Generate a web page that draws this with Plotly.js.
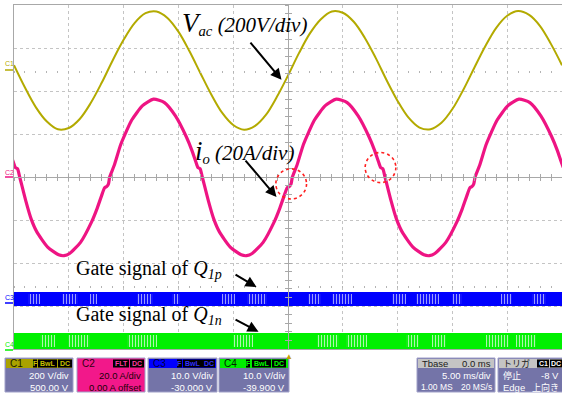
<!DOCTYPE html>
<html><head><meta charset="utf-8">
<script src="https://cdn.plot.ly/plotly-3.0.1.min.js"></script>
<style>html,body{margin:0;padding:0;background:#fff}#chart{width:562px;height:395px}</style>
</head><body><div id="chart"></div>
<script>
// ---- data (time in ms, level in divisions) ----
const vacTime = [-25,-24,-23,-22,-21,-20,-19,-18,-17,-16,-15,-14,-13,-12,-11,-10,-9,-8,-7,-6,-5,-4,-3,-2,-1,0,1,2,3,4,5,6,7,8,9,10,11,12,13,14,15,16,17,18,19,20,21,22,23,24,25];
const vacLevel = [2.60,2.08,1.62,1.29,1.11,1.14,1.35,1.72,2.19,2.71,3.19,3.58,3.81,3.85,3.70,3.38,2.93,2.42,1.92,1.49,1.21,1.10,1.19,1.45,1.87,2.36,2.88,3.34,3.67,3.85,3.82,3.61,3.24,2.77,2.25,1.77,1.38,1.15,1.11,1.26,1.58,2.03,2.54,3.04,3.47,3.75,3.86,3.77,3.51,3.09,2.60];

const ioTime = [
 -25.43,-25.08,-24.88,-24.68,-24.48,-23.93,-23.43,-22.93,-21.93,-20.93,-20.43,-19.93,-18.93,-17.93,-17.43,-17.03,-16.73,-16.53,-16.38,
 -16.27,-15.87,-15.27,-14.77,-14.27,-13.27,-12.27,-11.27,-10.27,-9.27,-8.77,-8.42,-8.22,-8.02,-7.82,-7.27,-6.77,-6.27,-5.27,-4.27,-3.77,-3.27,-2.27,-1.27,-0.77,-0.37,-0.07,0.13,0.28,
 0.4,0.8,1.4,1.9,2.4,3.4,4.4,5.4,6.4,7.4,7.9,8.25,8.45,8.65,8.85,9.4,9.9,10.4,11.4,12.4,12.9,13.4,14.4,15.4,15.9,16.3,16.6,16.8,16.95,
 17.07,17.47,18.07,18.57,19.07,20.07,21.07,22.07,23.07,24.07,24.57,24.92,25.12];
const ioLevel = [
 0.62,0.36,0.22,0.19,0.0,-0.55,-0.98,-1.27,-1.63,-1.81,-1.83,-1.78,-1.52,-1.05,-0.74,-0.45,-0.25,-0.22,-0.16,
 0,0.26,0.75,1.05,1.32,1.66,1.81,1.73,1.42,0.93,0.62,0.36,0.22,0.19,0.0,-0.55,-0.98,-1.27,-1.63,-1.81,-1.83,-1.78,-1.52,-1.05,-0.74,-0.45,-0.25,-0.22,-0.16,
 0,0.26,0.75,1.05,1.32,1.66,1.81,1.73,1.42,0.93,0.62,0.36,0.22,0.19,0.0,-0.55,-0.98,-1.27,-1.63,-1.81,-1.83,-1.78,-1.52,-1.05,-0.74,-0.45,-0.25,-0.22,-0.16,
 0,0.26,0.75,1.05,1.32,1.66,1.81,1.73,1.42,0.93,0.62,0.36,0.22];

const gateStart = -25, gateEnd = 25;
const q1pHigh = -2.67, q1pLow = -3.00;
const q1nHigh = -3.63, q1nLow = -4.00;
// regions where individual gate pulses are visible
const q1pLightStart = [-23.73,-20.63,-18.08,-13.80,-10.61,-6.06,-3.78,1.78,4.05,9.52,11.70,14.98,19.44,22.27];
const q1pLightEnd   = [-22.63,-19.17,-17.44,-12.34,-9.88,-4.87,-1.96,3.05,5.87,10.79,13.80,15.89,20.45,23.54];
const q1nLightStart = [-22.63,-20.08,-14.71,-5.05,2.69,5.33,10.79,13.16,18.08,20.81];
const q1nLightEnd   = [-21.26,-18.08,-11.98,-3.23,4.69,7.24,11.98,14.44,20.17,22.63];

const kinkTime  = [0.29, 8.44];
const kinkLevel = [-0.16, 0.22];

// ---- helpers ----
const P = x => (x - 14) / 548;   // pixel x -> paper
const Q = y => (349 - y) / 344;  // pixel y -> paper
const C_VAC = '#b3aa00', C_IO = '#ee1483', C_BLUE = '#0000ff', C_GREEN = '#00f000';
const BODY = '#7474a8';

function band(start, end, lo, hi, color) {
  return { type: 'bar', x: [(start + end) / 2], width: [end - start], base: [lo], y: [hi - lo],
    marker: { color: color, line: { width: 0 } }, hoverinfo: 'skip', showlegend: false };
}
function lightBars(starts, ends, base, h, bg, fg) {
  return {
    type: 'bar', x: starts.map((s, i) => (s + ends[i]) / 2), width: starts.map((s, i) => ends[i] - s),
    y: starts.map(() => h), base: starts.map(() => base),
    marker: { color: bg, line: { width: 0 }, pattern: { shape: '|', fgcolor: fg, bgcolor: bg, size: 3, solidity: 0.4, fillmode: 'replace' } },
    hoverinfo: 'skip', showlegend: false
  };
}

const traces = [
  { x: [], y: [], xaxis: 'x2', yaxis: 'y', showlegend: false },
  { x: [], y: [], xaxis: 'x3', yaxis: 'y', showlegend: false },
  { x: [], y: [], xaxis: 'x4', yaxis: 'y', showlegend: false },
  { x: [], y: [], xaxis: 'x5', yaxis: 'y', showlegend: false },
  { x: [], y: [], xaxis: 'x', yaxis: 'y2', showlegend: false },
  { x: [], y: [], xaxis: 'x', yaxis: 'y3', showlegend: false },
  band(gateStart, gateEnd, q1pLow, q1pHigh, C_BLUE),
  band(gateStart, gateEnd, q1nLow, q1nHigh, C_GREEN),
  lightBars(q1pLightStart, q1pLightEnd, -2.96, 0.24, C_BLUE, '#9c9cff'),
  lightBars(q1nLightStart, q1nLightEnd, -3.96, 0.28, C_GREEN, '#acf8ac'),
  { x: vacTime, y: vacLevel, mode: 'lines', line: { color: C_VAC, width: 2, shape: 'spline', smoothing: 1 }, hoverinfo: 'skip', showlegend: false },
  { x: ioTime, y: ioLevel, mode: 'lines', line: { color: C_IO, width: 3.2, shape: 'spline', smoothing: 0.6 }, hoverinfo: 'skip', showlegend: false }
];

const grey = '#a8a8a8';
const tickAxis = (pos, dir, showline) => ({
  overlaying: 'x', anchor: 'free', position: pos, range: [-25, 25], showgrid: false, zeroline: false,
  showline: showline, linecolor: grey, linewidth: 1, ticks: dir, ticklen: showline ? 3 : 2, tickwidth: 1,
  tickcolor: showline ? grey : '#b4b4b4', dtick: 1, tick0: 0, showticklabels: false
});
const tickAxisY = (dir) => ({
  overlaying: 'y', anchor: 'free', position: 0.5, range: [-4, 4], showgrid: false, zeroline: false,
  showline: true, linecolor: grey, linewidth: 1, ticks: dir, ticklen: 3, tickwidth: 1, tickcolor: grey,
  dtick: 0.2, tick0: 0, showticklabels: false
});

const shapes = [];
const ann = [];
const serif = 'Liberation Serif, Times New Roman, serif';
const sans = 'Liberation Sans, Arial, sans-serif';

// highlight circles on current kinks
kinkTime.forEach((t, i) => shapes.push({ type: 'circle', xref: 'x', yref: 'y', x0: t - 1.4, x1: t + 1.4, y0: kinkLevel[i] - 0.35, y1: kinkLevel[i] + 0.35, line: { color: '#ff2020', width: 1.6, dash: 'dot' } }));

// text labels + arrows
ann.push({ xref: 'x', yref: 'y', x: -9.81, y: 3.56, xanchor: 'left', yanchor: 'middle', showarrow: false,
  text: '<i><span style="font-size:27px">V</span><sub>ac</sub> (200V/div)</i>', font: { family: serif, size: 21, color: '#000' } });
ann.push({ xref: 'x', yref: 'y', x: -8.71, y: 0.60, xanchor: 'left', yanchor: 'middle', showarrow: false,
  text: '<i><span style="font-size:27px">i</span><sub>o</sub> (20A/div)</i>', font: { family: serif, size: 21, color: '#000' } });
ann.push({ xref: 'x', yref: 'y', x: -19.57, y: -2.16, xanchor: 'left', yanchor: 'middle', showarrow: false,
  text: 'Gate signal of <i>Q</i><sub><i>1p</i></sub>', font: { family: serif, size: 20, color: '#000' } });
ann.push({ xref: 'x', yref: 'y', x: -19.57, y: -3.23, xanchor: 'left', yanchor: 'middle', showarrow: false,
  text: 'Gate signal of <i>Q</i><sub><i>1n</i></sub>', font: { family: serif, size: 20, color: '#000' } });
const arrow = (hx, hy, tx, ty) => ann.push({ xref: 'x', yref: 'y', axref: 'x', ayref: 'y', x: hx, y: hy, ax: tx, ay: ty, text: ' ', showarrow: true, arrowhead: 2, arrowsize: 1.1, arrowwidth: 2, arrowcolor: '#000' });
arrow(-0.59, 2.26, -3.70, 3.21);
arrow(-1.05, -0.465, -4.15, 0.465);
arrow(-2.87, -2.56, -5.06, -2.23);
arrow(-2.69, -3.60, -5.06, -3.28);

// channel markers at left
[['C1', 64, 70, C_VAC], ['C2', 172, 177, C_IO], ['C3', 297, 303, C_BLUE], ['C4', 344, 350, C_GREEN]].forEach(([t, ty, ly, c]) => {
  ann.push({ xref: 'paper', yref: 'paper', x: P(9), y: Q(ty), xanchor: 'center', yanchor: 'middle', text: t, showarrow: false, font: { family: sans, size: 7, color: c } });
  shapes.push({ type: 'line', xref: 'paper', yref: 'paper', x0: P(5), x1: P(13), y0: Q(ly), y1: Q(ly), line: { color: c, width: 1.5 } });
});

// trigger position marker
ann.push({ xref: 'paper', yref: 'paper', x: P(288.5), y: Q(355), text: '▲', showarrow: false, font: { size: 8, color: '#c8a000' }, xanchor: 'center', yanchor: 'middle' });

// bottom status panel
function rect(x0, y0, x1, y1, fill, lc) {
  shapes.push({ type: 'rect', xref: 'paper', yref: 'paper', x0: P(x0), x1: P(x1), y0: Q(y1), y1: Q(y0), fillcolor: fill, line: { color: lc || fill, width: lc ? 1 : 0 } });
}
function txt(x, y, s, anchor, color, size, fam) {
  ann.push({ xref: 'paper', yref: 'paper', x: P(x), y: Q(y), text: s, showarrow: false, xanchor: anchor, yanchor: 'middle', font: { family: fam || sans, size: size || 9, color: color } });
}
const boxes = [
  { x0: 5, x1: 73, head: '#aaa200', body: BODY, name: 'C1', nameC: '#1a1a00', badges: [['F', 33, 37], ['BwL', 38, 57], ['DC', 58, 72]], bc: '#c8c000', l1: '200 V/div', l2: '500.00 V', tc: '#fff' },
  { x0: 77, x1: 145, head: '#f2188a', body: '#f2188a', name: 'C2', nameC: '#300010', badges: [['FLT', 113, 129], ['DC', 130, 144]], bc: '#ff3aa0', l1: '20.0 A/div', l2: '0.00 A offset', tc: '#1a0008' },
  { x0: 148, x1: 217, head: '#0000ff', body: BODY, name: 'C3', nameC: '#00003a', badges: [['F', 177, 182], ['BwL', 183, 202], ['DC', 202, 215]], bc: '#3030ff', l1: '10.0 V/div', l2: '-30.000 V', tc: '#fff' },
  { x0: 219, x1: 289, head: '#00ee00', body: BODY, name: 'C4', nameC: '#002000', badges: [['F', 246, 250], ['BwL', 252, 271], ['DC', 272, 286]], bc: '#00ff00', l1: '10.0 V/div', l2: '-39.900 V', tc: '#fff' }
];
boxes.forEach(b => {
  rect(b.x0, 358, b.x1, 392, b.body, '#a0a0c8');
  rect(b.x0 + 1, 359, b.x1 - 1, 368, b.head);
  txt(b.x0 + 3, 363.5, b.name, 'left', b.nameC, 10);
  b.badges.forEach(([s, a, c]) => { rect(a, 359.5, c, 367.5, '#000'); txt((a + c) / 2, 363.5, '<b>' + s + '</b>', 'center', b.bc, 7); });
  txt(b.x1 - 2, 375.5, b.l1, 'right', b.tc, 9.5);
  txt(b.x1 - 2, 387, b.l2, 'right', b.tc, 9.5);
});
// Tbase box
rect(417, 358, 495, 392, BODY, '#a0a0c8');
rect(418, 359, 494, 368, '#c4c4c4');
txt(420, 363.5, 'Tbase', 'left', '#202020', 9.5);
txt(493, 363.5, '0.0 ms', 'right', '#202020', 9.5);
txt(493, 375.5, '5.00 ms/div', 'right', '#fff', 9.5);
txt(419, 387, '1.00 MS', 'left', '#fff', 8.5);
txt(494, 387, '20 MS/s', 'right', '#fff', 8.5);
// trigger box
rect(498, 358, 580, 392, BODY, '#a0a0c8');
rect(499, 359, 579, 368, '#c4c4c4');
txt(501, 363.5, 'トリガ', 'left', '#202020', 9, 'Noto Sans CJK JP');
rect(537, 359.5, 549, 367.5, '#000'); txt(543, 363.5, '<b>C1</b>', 'center', '#fff', 7);
rect(550, 359.5, 562, 367.5, '#000'); txt(556, 363.5, '<b>DC</b>', 'center', '#fff', 7);
txt(501, 375.5, '停止', 'left', '#fff', 9, 'Noto Sans CJK JP');
txt(561, 375.5, '-8 V', 'right', '#fff', 9.5);
txt(501, 387, 'Edge', 'left', '#fff', 9.5);
txt(561, 387, '上向き', 'right', '#fff', 9, 'Noto Sans CJK JP');

const layout = {
  width: 562, height: 395,
  margin: { l: 14, r: 0, t: 5, b: 46, pad: 0 },
  paper_bgcolor: '#fff', plot_bgcolor: '#fff',
  showlegend: false, barmode: 'overlay', bargap: 0,
  xaxis: { range: [-25, 25], dtick: 5, tick0: 0, showgrid: true, gridcolor: '#c4c4c4', griddash: 'dot', gridwidth: 1,
           zeroline: false, showline: true, mirror: true, linecolor: grey, linewidth: 1, showticklabels: false, ticks: '', fixedrange: true },
  yaxis: { range: [-4, 4], dtick: 1, tick0: 0, showgrid: true, gridcolor: '#c4c4c4', griddash: 'dot', gridwidth: 1,
           zeroline: false, showline: true, mirror: false, linecolor: grey, linewidth: 1, showticklabels: false, ticks: '', fixedrange: true },
  xaxis2: tickAxis(0.5, 'outside', true),
  xaxis3: tickAxis(0.5, 'inside', true),
  xaxis4: tickAxis(6.5 / 8, 'outside', false),
  xaxis5: tickAxis(1.5 / 8, 'outside', false),
  yaxis2: tickAxisY('outside'),
  yaxis3: tickAxisY('inside'),
  shapes: shapes, annotations: ann
};
Plotly.newPlot('chart', traces, layout, { staticPlot: true, displayModeBar: false });
</script></body></html>
